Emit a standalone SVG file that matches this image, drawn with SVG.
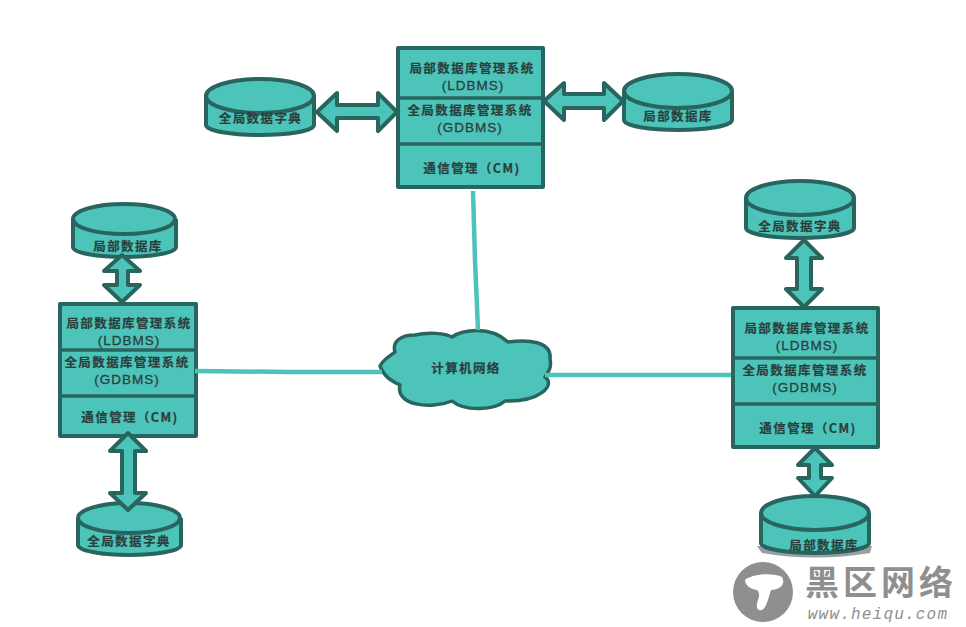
<svg xmlns="http://www.w3.org/2000/svg" width="966" height="627" viewBox="0 0 966 627">
<style>
.f{fill:#4dc4ba;stroke:#28655f;stroke-width:4;stroke-linejoin:round}
.b{fill:#4dc4ba;stroke:#28655f;stroke-width:4;stroke-linejoin:round}
.d{stroke:#28655f;stroke-width:3.5;fill:none}
.c{fill:none;stroke:#4dc4ba;stroke-width:4.5}
text{font-family:"Noto Sans CJK SC","Liberation Sans",sans-serif;font-weight:700;font-size:12.5px;letter-spacing:1.4px;fill:#2b3f3d;stroke:#2b3f3d;stroke-width:.2;text-anchor:middle}
.l{font-family:"Liberation Sans","Noto Sans CJK SC",sans-serif;font-weight:400;font-size:13.5px;letter-spacing:1px;stroke-width:.3}
.w{fill:#8f8f8f}
</style>
<rect width="966" height="627" fill="#fff"/>
<g id="node-top">
<rect class="b" x="398" y="48" width="145" height="139"/>
<path class="d" d="M398,98H543M398,144H543"/>
<text x="472" y="73">局部数据库管理系统</text><text class="l" x="473" y="90">(LDBMS)</text>
<text x="470" y="115">全局数据库管理系统</text><text class="l" x="470" y="132">(GDBMS)</text>
<text x="472" y="173">通信管理（CM)</text>
</g>
<g id="node-left">
<rect class="b" x="60" y="304" width="136" height="132"/>
<path class="d" d="M60,350H196M60,396H196"/>
<text x="129" y="328">局部数据库管理系统</text><text class="l" x="129" y="345">(LDBMS)</text>
<text x="127" y="367">全局数据库管理系统</text><text class="l" x="127" y="384">(GDBMS)</text>
<text x="130" y="422">通信管理（CM)</text>
</g>
<g id="node-right">
<rect class="b" x="733" y="308" width="145" height="139"/>
<path class="d" d="M733,358H878M733,404H878"/>
<text x="807" y="333">局部数据库管理系统</text><text class="l" x="807" y="350">(LDBMS)</text>
<text x="805" y="375">全局数据库管理系统</text><text class="l" x="805" y="392">(GDBMS)</text>
<text x="808" y="433">通信管理（CM)</text>
</g>
<g id="db-top-left">
<path class="b" d="M206,96V125C206,131 232,135 260,135C288,135 314,131 314,125V96"/>
<ellipse class="b" cx="260" cy="96" rx="54" ry="17"/>
<text x="260.5" y="123">全局数据字典</text>
</g>
<g id="db-top-right">
<path class="b" d="M624,91V120C624,126 650,130 678,130C706,130 732,126 732,120V91"/>
<ellipse class="b" cx="678" cy="91" rx="54" ry="17"/>
<text x="678" y="121">局部数据库</text>
</g>
<g id="db-left-top">
<path class="b" d="M73,219V247C73,253 98,257 124,257C150,257 176,253 176,247V219"/>
<ellipse class="b" cx="124" cy="219" rx="51" ry="15"/>
<text x="128" y="251">局部数据库</text>
</g>
<g id="db-left-bottom">
<path class="b" d="M78,518V545C78,551 103,555 129,555C155,555 181,551 181,545V518"/>
<ellipse class="b" cx="129" cy="518" rx="51" ry="15"/>
<text x="129" y="546">全局数据字典</text>
</g>
<g id="db-right-top">
<path class="b" d="M746,198V228C746,234 772,238 800,238C828,238 854,234 854,228V198"/>
<ellipse class="b" cx="800" cy="198" rx="54" ry="17"/>
<text x="800" y="231">全局数据字典</text>
</g>
<g id="db-right-bottom">
<path d="M757,546H872L870,553Q815,562 762,553Z" fill="#9a9f9e"/>
<path class="b" d="M761,513V543C761,549 787,553 815,553C843,553 869,549 869,543V513"/>
<ellipse class="b" cx="815" cy="513" rx="54" ry="17"/>
<text x="824" y="550">局部数据库</text>
</g>
<g id="node-cloud">
<path class="f" style="stroke-width:3.5" d="M380,366C384,358 392,355 395,352C392,342 400,335 415,335C428,332 445,333 452,337C462,330 490,325 508,342C530,339 552,342 550,359C552,368 548,372 545,377C556,385 540,402 505,401C495,410 465,412 452,401C430,410 395,405 400,385C392,381 385,378 380,366Z"/>
<text x="466" y="373">计算机网络</text>
</g>
<g id="connectors">
<path class="c" d="M473,191L475,260L478,330"/>
<path class="c" d="M195,371L290,372L382,372"/>
<path class="c" d="M545,375L731,375"/>
<polygon class="f" points="317,112 337,93 337,105 378,105 378,93 397,112 378,131 378,118 337,118 337,131"/>
<polygon class="f" points="544,101 564,83 564,94 604,94 604,83 623,101 604,120 604,108 564,108 564,120"/>
<polygon class="f" points="122,255 140,271 128,271 128,285 140,285 122,302 104,285 117,285 117,271 104,271"/>
<polygon class="f" points="128,433 146,451 135,451 135,493 146,493 128,510 110,493 122,493 122,451 110,451"/>
<polygon class="f" points="804,240 822,258 811,258 811,289 822,289 804,307 786,289 797,289 797,258 786,258"/>
<polygon class="f" points="815,448 832,465 821,465 821,478 832,478 815,496 798,478 809,478 809,465 798,465"/>
</g>
<g id="watermark">
<circle class="w" cx="763" cy="592" r="30"/>
<path d="M745,580C752,574 772,572 782,577C786,584 780,590 771,590C768,600 766,608 762,610C756,611 756,606 758,600C760,595 759,592 757,590C750,589 745,585 745,580Z" fill="#fff"/>
<text x="881" y="595" style="font-size:34px;letter-spacing:4px;fill:#8f8f8f;stroke:none;font-weight:700">黑区网络</text>
<text x="878" y="619" style="font-family:'Liberation Mono',monospace;font-style:italic;font-size:16px;letter-spacing:1.2px;fill:#8f8f8f;stroke:none;font-weight:400">www.heiqu.com</text>
</g>
</svg>
